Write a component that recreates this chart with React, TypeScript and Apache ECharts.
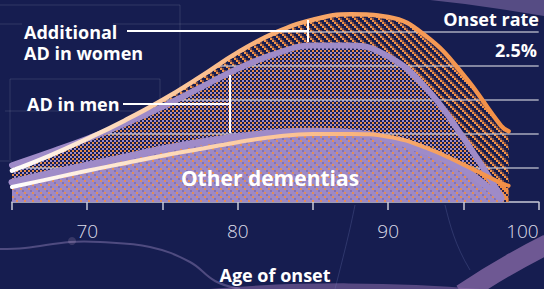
import React, { useEffect, useRef } from "react";
import * as echarts from "echarts";

// ---- data (onset rate, % per year) ----
const ages = [65, 67.5, 70, 72.5, 75, 77.5, 80, 82.5, 85, 87.5, 90, 92.5, 95, 97.5, 98];
const womenTotal = [0.46, 0.68, 0.93, 1.2, 1.5, 1.84, 2.2, 2.49, 2.68, 2.76, 2.72, 2.44, 1.87, 1.12, 1.04];
const menTotal = [0.54, 0.73, 0.93, 1.15, 1.4, 1.68, 1.96, 2.18, 2.3, 2.3, 2.14, 1.68, 0.94, 0.08, null];
const menOther = [0.29, 0.42, 0.54, 0.66, 0.78, 0.88, 0.96, 1.02, 1.04, 1.02, 0.93, 0.74, 0.48, 0.05, null];
const womenOther = [0.22, 0.34, 0.46, 0.57, 0.68, 0.78, 0.88, 0.96, 1.0, 1.0, 0.96, 0.8, 0.55, 0.28, 0.24];
const gridLevels = [0.5, 1, 1.5, 2, 2.5];
const tickLabels = [70, 80, 90, 100];

const BG = "#161d50";
const ORANGE = "#f38f45";
const PURPLE = "#9f8bc8";

function pairs(vals: (number | null)[]) {
  return ages.map((a, i) => [a, vals[i]]).filter((d) => d[1] != null);
}

// 4x4 logical cells, each drawn as a 2x2 pixel block (8px tile)
function makePattern(pix: (a: number, b: number) => string | null, base: string) {
  const size = 8;
  const c = document.createElement("canvas");
  c.width = size;
  c.height = size;
  const ctx = c.getContext("2d")!;
  ctx.fillStyle = base;
  ctx.fillRect(0, 0, size, size);
  for (let a = 0; a < 4; a++) {
    for (let b = 0; b < 4; b++) {
      const col = pix(a, b);
      if (col) {
        ctx.fillStyle = col;
        ctx.fillRect(a * 2, b * 2, 2, 2);
      }
    }
  }
  return { image: c.toDataURL(), repeat: "repeat", imageWidth: size, imageHeight: size };
}

function crossing(level: number) {
  for (let i = 0; i < ages.length; i++) {
    if (womenTotal[i] >= level) {
      if (i === 0) return ages[0];
      const t = (level - womenTotal[i - 1]) / (womenTotal[i] - womenTotal[i - 1]);
      return ages[i - 1] + t * (ages[i] - ages[i - 1]);
    }
  }
  return ages[0];
}

export default function App() {
  const ref = useRef<HTMLDivElement>(null);
  useEffect(() => {
    const chart = echarts.init(ref.current!, null, { renderer: "svg" });
    const mod = (n: number) => ((n % 4) + 4) % 4;
    const hatchWomen = makePattern(
      (a, b) => (mod(a - b) === 0 ? "#f59448" : mod(a - b) === 1 ? "#7a4c46" : null),
      BG
    );
    const crossMen = makePattern((a, b) => {
      if ((a + b) % 2 === 0) return null;
      return a % 2 === 0 ? "#e68c4c" : "#a18dca";
    }, BG);
    const dotsOther = makePattern(
      (a, b) =>
        mod(a + b) === 0 && a % 2 === 0 ? "#e38d57" : mod(a + b) === 2 && a % 2 === 1 ? "#8673b0" : null,
      "#9d89c6"
    );
    const orangeOther = makePattern((a, b) => (mod(a - b) === 0 ? "#2a2450" : null), "#f08c45");

    const womenGrad = (stops: [number, string][]) =>
      new echarts.graphic.LinearGradient(0, 0, 1, 0, stops.map(([o, c]) => ({ offset: o, color: c })));

    const SM = 0.45;
    const areaSeries = (name: string, vals: (number | null)[], fill: any, z: number) => ({
      name,
      type: "line",
      data: pairs(vals),
      smooth: SM,
      showSymbol: false,
      symbol: "none",
      lineStyle: { width: 0 },
      areaStyle: { color: fill, opacity: 1 },
      z,
      silent: true,
    });
    const lineSeries = (name: string, vals: (number | null)[], color: any, width: number, z: number) => ({
      name,
      type: "line",
      data: pairs(vals),
      smooth: SM,
      showSymbol: false,
      symbol: "none",
      lineStyle: { width, color, cap: "round" },
      z,
      silent: true,
    });

    const gridSeries = gridLevels.map((lv) => ({
      type: "line",
      data: [
        [crossing(lv), lv],
        [100, lv],
      ],
      showSymbol: false,
      symbol: "none",
      lineStyle: { width: 1.5, color: "rgba(205,205,215,0.8)" },
      z: 3,
      silent: true,
    }));

    const faint = "rgba(255,255,255,0.12)";
    const fl = (x1: number, y1: number, x2: number, y2: number) => ({
      type: "line",
      shape: { x1, y1, x2, y2 },
      style: { stroke: faint, lineWidth: 1 },
      z: 0,
      silent: true,
    });
    const white = "#ffffff";
    const wl = (x1: number, y1: number, x2: number, y2: number) => ({
      type: "line",
      shape: { x1, y1, x2, y2 },
      style: { stroke: white, lineWidth: 2 },
      z: 100,
      silent: true,
    });
    const txt = (text: string, x: number, y: number, size: number, align: string, weight = "bold", va = "middle", lh = 0) => ({
      type: "text",
      z: 100,
      silent: true,
      style: {
        text,
        x,
        y,
        fill: white,
        font: `${weight} ${size}px "Open Sans", sans-serif`,
        textAlign: align,
        textVerticalAlign: va,
        align,
        verticalAlign: va,
        lineHeight: lh || undefined,
      },
    });

    chart.setOption({
      animation: false,
      backgroundColor: BG,
      grid: { left: 12, right: 5.3, top: 4.8, bottom: 87 },
      xAxis: {
        type: "value",
        min: 65,
        max: 100,
        interval: 5,
        splitLine: { show: false },
        axisLine: { lineStyle: { color: "#c9c9d6", width: 1.5 } },
        axisTick: { show: true, length: 8, lineStyle: { color: "#c9c9d6", width: 1.5 } },
        axisLabel: {
          margin: 19,
          color: "#dcdce8",
          fontSize: 19,
          fontWeight: 300,
          fontFamily: '"Open Sans", sans-serif',
          alignMaxLabel: "right",
          formatter: (v: number) => (tickLabels.includes(v) ? String(v) : ""),
        },
      },
      yAxis: { type: "value", min: 0, max: 2.9, show: false, splitLine: { show: false } },
      series: [
        areaSeries("Additional AD in women", womenTotal, hatchWomen, 1),
        areaSeries("AD in men", menTotal, crossMen, 2),
        ...gridSeries,
        areaSeries("Other dementias (women)", womenOther, orangeOther, 4),
        areaSeries("Other dementias (men)", menOther, dotsOther, 5),
        lineSeries("men total", menTotal, PURPLE, 6, 6),
        lineSeries("men other", menOther, PURPLE, 7, 6),
        lineSeries(
          "women total",
          womenTotal,
          womenGrad([
            [0, "#ffffff"],
            [0.25, "#fcd2ae"],
            [0.55, "#f8ab70"],
            [1, ORANGE],
          ]),
          4.5,
          7
        ),
        lineSeries(
          "women other",
          womenOther,
          womenGrad([
            [0, "#ffffff"],
            [0.3, "#fddcbc"],
            [0.6, "#fbbf8f"],
            [1, ORANGE],
          ]),
          4,
          7
        ),
      ],
      graphic: [
        // background decoration
        { type: "polygon", z: 0, silent: true, shape: { points: [[430, 0], [544, 0], [544, 16], [500, 9], [465, 4]] }, style: { fill: "rgba(165,135,195,0.45)" } },
        { type: "bezierCurve", z: 0, silent: true, shape: { x1: 462, y1: 294, cpx1: 495, cpy1: 272, cpx2: 520, cpy2: 258, x2: 548, y2: 244 }, style: { stroke: "rgba(140,108,170,0.75)", lineWidth: 20, fill: null } },
        { type: "bezierCurve", z: 0, silent: true, shape: { x1: 210, y1: 293, cpx1: 300, cpy1: 285, cpx2: 400, cpy2: 286, x2: 480, y2: 293 }, style: { stroke: "rgba(140,108,170,0.55)", lineWidth: 8, fill: null } },
        { type: "polyline", z: 0, silent: true, shape: { points: [[0, 249], [25, 248], [70, 242], [100, 242], [150, 247], [190, 262], [215, 281], [240, 289]], smooth: 0.4 }, style: { stroke: "rgba(165,145,200,0.4)", lineWidth: 2, fill: null } },
        { type: "circle", z: 0, silent: true, shape: { cx: 72, cy: 241, r: 4 }, style: { fill: "rgba(210,180,210,0.18)" } },
        { type: "bezierCurve", z: 0, silent: true, shape: { x1: 335, y1: 289, cpx1: 345, cpy1: 250, cpx2: 350, cpy2: 230, x2: 355, y2: 205 }, style: { stroke: "rgba(120,130,190,0.25)", lineWidth: 1, fill: null } },
        { type: "bezierCurve", z: 0, silent: true, shape: { x1: 470, y1: 270, cpx1: 455, cpy1: 245, cpx2: 450, cpy2: 225, x2: 445, y2: 205 }, style: { stroke: "rgba(120,130,190,0.25)", lineWidth: 1, fill: null } },
        fl(0, 5, 180, 5),
        fl(180, 5, 180, 95),
        fl(0, 24, 22, 24),
        fl(113, 24, 300, 24),
        fl(10, 79, 160, 79),
        fl(160, 79, 160, 100),
        fl(10, 79, 10, 160),
        fl(5, 111, 150, 111),
        fl(0, 161, 12, 161),
        // annotations
        txt("Additional\nAD in women", 24, 21, 18, "left", "bold", "top", 21),
        wl(127, 31, 308, 31),
        wl(308, 20, 308, 42),
        txt("AD in men", 27, 104, 18, "left"),
        wl(123, 104, 230, 104),
        wl(230, 75, 230, 133),
        txt("Other dementias", 270, 178, 21, "center"),
        txt("Onset rate", 539, 19, 18, "right"),
        txt("2.5%", 537, 50, 18, "right"),
        txt("Age of onset", 275, 275, 18, "center"),
      ],
    });
    return () => chart.dispose();
  }, []);
  return (
    <>
      <style>{`svg image, svg pattern image { image-rendering: pixelated; image-rendering: crisp-edges; }`}</style>
      <div ref={ref} style={{ position: "fixed", left: 0, top: 0, width: 544, height: 289 }} />
    </>
  );
}
